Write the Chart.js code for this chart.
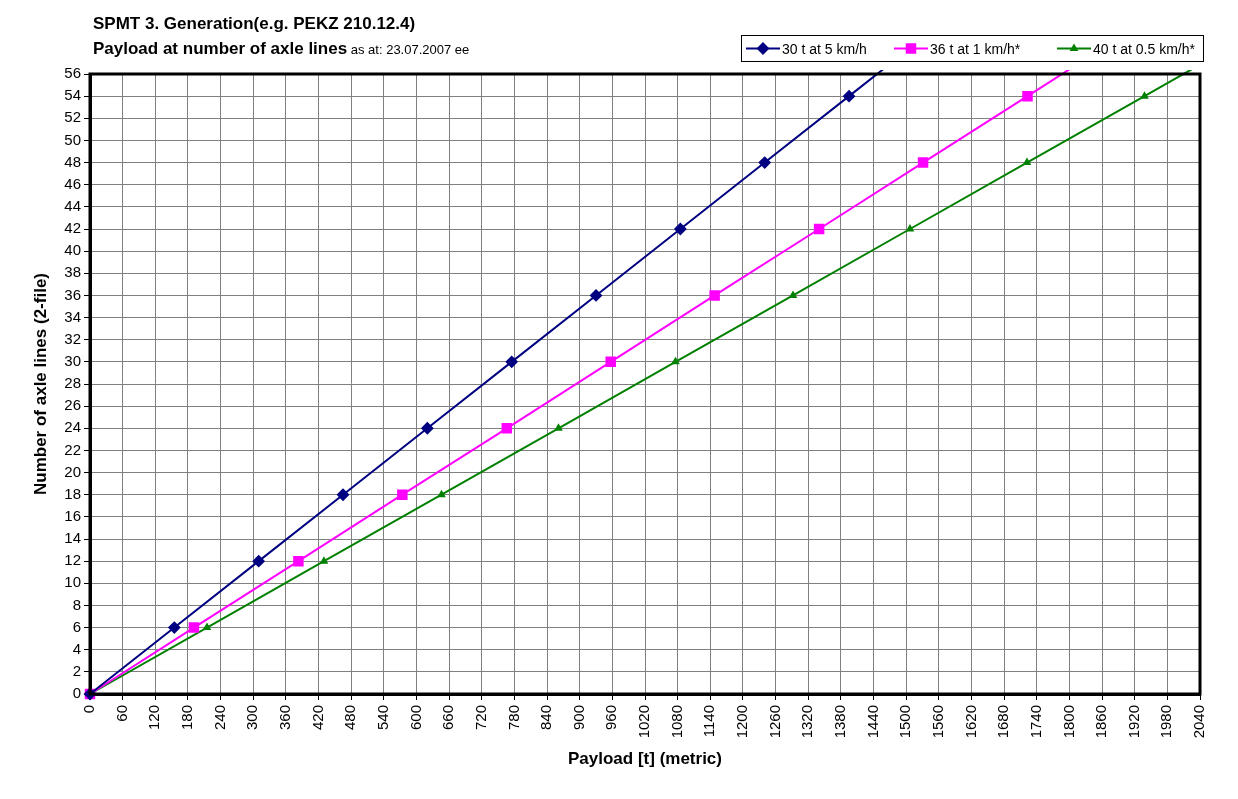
<!DOCTYPE html>
<html>
<head>
<meta charset="utf-8">
<script src="https://cdn.jsdelivr.net/npm/chart.js@4"></script>
<style>
  html, body { margin: 0; padding: 0; background: #fff; }
  #wrap { width: 1238px; height: 799px; }
</style>
</head>
<body>
<div id="wrap"><canvas id="axleChart" width="1238" height="799"></canvas></div>
<script>
// number of axle lines (y) and payload in t (x) per load case
var axleLines = [0, 6, 12, 18, 24, 30, 36, 42, 48, 54, 60];
var payload30 = [0, 155, 310, 465, 620, 775, 930, 1085, 1240, 1395, 1550];
var payload36 = [0, 191, 383, 574, 766, 957, 1148, 1340, 1531, 1723, 1914];
var payload40 = [0, 215, 430, 646, 861, 1076, 1292, 1507, 1722, 1938, 2153];

var seriesLabels = ['30 t at 5 km/h', '36 t at 1 km/h*', '40 t at 0.5 km/h*'];
var seriesColors = ['#000080', '#ff00ff', '#008000'];
var seriesMarkers = ['rectRot', 'rect', 'triangle'];
var markerSizes = [5, 6, 3];

var titleLine1 = 'SPMT 3. Generation(e.g. PEKZ 210.12.4)';
var titleLine2 = 'Payload at number of axle lines';
var titleNote = ' as at: 23.07.2007 ee';

var fontName = '"Liberation Sans", Arial, sans-serif';

function toPoints(xs) {
    var pts = [];
    for (var i = 0; i < xs.length; i++) {
        pts.push({ x: xs[i], y: axleLines[i] });
    }
    return pts;
}

// title + framed legend drawn on top, excel style
var headerPlugin = {
    id: 'header',
    afterDraw: function (chart) {
        var ctx = chart.ctx;
        ctx.save();
        ctx.fillStyle = '#000';
        ctx.textBaseline = 'alphabetic';
        ctx.font = 'bold 17px ' + fontName;
        ctx.fillText(titleLine1, 93, 29);
        ctx.fillText(titleLine2, 93, 54);
        var w = ctx.measureText(titleLine2).width;
        ctx.font = '13px ' + fontName;
        ctx.fillText(titleNote, 93 + w, 54);

        // legend box
        ctx.strokeStyle = '#000';
        ctx.lineWidth = 1;
        ctx.strokeRect(741.5, 35.5, 462, 26);
        var starts = [746, 894, 1057];
        ctx.font = '14px ' + fontName;
        for (var i = 0; i < 3; i++) {
            var x0 = starts[i];
            ctx.strokeStyle = seriesColors[i];
            ctx.lineWidth = 2;
            ctx.beginPath();
            ctx.moveTo(x0, 48.5);
            ctx.lineTo(x0 + 34, 48.5);
            ctx.stroke();
            Chart.helpers.drawPoint(ctx, {
                pointStyle: seriesMarkers[i],
                radius: markerSizes[i],
                borderWidth: 1
            }, x0 + 17, 48.5);
            ctx.fillStyle = seriesColors[i];
            ctx.fill();
            ctx.fillStyle = '#000';
            ctx.fillText(seriesLabels[i], x0 + 36, 54);
        }
        ctx.restore();
    }
};

function makeDataset(i, xs) {
    return {
        label: seriesLabels[i],
        data: toPoints(xs),
        borderColor: seriesColors[i],
        backgroundColor: seriesColors[i],
        borderWidth: 2,
        pointStyle: seriesMarkers[i],
        pointRadius: markerSizes[i],
        pointHoverRadius: markerSizes[i],
        tension: 0,
        clip: { left: 7, top: 4, right: 2, bottom: 7 }
    };
}

var chart = new Chart(document.getElementById('axleChart').getContext('2d'), {
    type: 'line',
    data: {
        datasets: [
            makeDataset(0, payload30),
            makeDataset(1, payload36),
            makeDataset(2, payload40)
        ]
    },
    options: {
        responsive: false,
        animation: false,
        layout: { padding: { left: 27, top: 74, right: 38, bottom: 25 } },
        plugins: {
            legend: { display: false },
            title: { display: false },
            tooltip: { enabled: false }
        },
        scales: {
            x: {
                type: 'linear',
                min: 0,
                max: 2040,
                afterFit: function (scale) { scale.height = 80; },
                ticks: {
                    stepSize: 60,
                    minRotation: 90,
                    maxRotation: 90,
                    autoSkip: false,
                    color: '#000',
                    padding: 5,
                    font: { family: fontName, size: 15 },
                    callback: function (v) { return String(v); }
                },
                grid: { color: '#808080', lineWidth: 1, tickLength: 6, tickColor: '#000' },
                border: { color: '#000', width: 3 },
                title: {
                    display: true,
                    text: 'Payload [t] (metric)',
                    color: '#000',
                    font: { family: fontName, size: 17, weight: 'bold' },
                    padding: { top: 4 }
                }
            },
            y: {
                min: 0,
                max: 56,
                afterFit: function (scale) { scale.width = 63; },
                ticks: {
                    stepSize: 2,
                    color: '#000',
                    padding: 3,
                    font: { family: fontName, size: 15 }
                },
                grid: { color: '#808080', lineWidth: 1, tickLength: 6, tickColor: '#000' },
                border: { color: '#000', width: 3 },
                title: {
                    display: true,
                    text: 'Number of axle lines (2-file)',
                    color: '#000',
                    font: { family: fontName, size: 17, weight: 'bold' },
                    padding: { bottom: 4 }
                }
            }
        }
    },
    plugins: [headerPlugin, {
        id: 'frame',
        afterDatasetsDraw: function (chart) {
            var a = chart.chartArea, ctx = chart.ctx;
            ctx.save();
            ctx.strokeStyle = '#000';
            ctx.lineWidth = 3;
            ctx.strokeRect(a.left, a.top, a.right - a.left, a.bottom - a.top);
            ctx.restore();
        }
    }]
});
</script>
</body>
</html>
